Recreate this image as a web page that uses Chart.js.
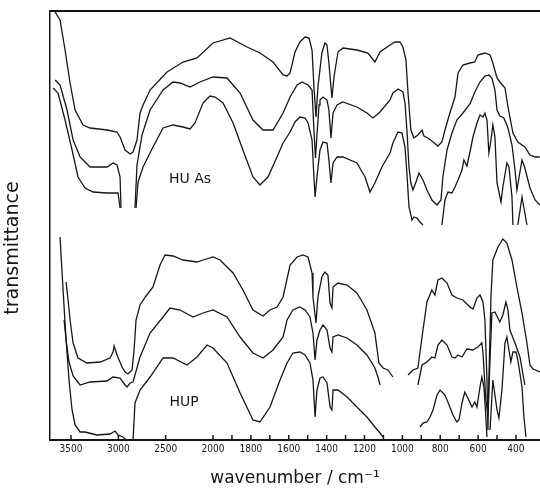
<!DOCTYPE html>
<html>
<head>
<meta charset="utf-8">
<script src="https://cdn.jsdelivr.net/npm/chart.js@4.4.1/dist/chart.umd.min.js"></script>
<style>
  html, body { margin: 0; padding: 0; background: #fff; }
  canvas { display: block; }
</style>
</head>
<body>
<canvas id="ir" width="540" height="489"></canvas>
<script>
// IR spectra: HUAs (upper three traces) and HUP (lower three traces).
// x = wavenumber / cm-1, y = transmittance in arbitrary units (the original has no y scale).
// [w, null] = pen lifted / trace runs off scale.

const TICK_WN = [3500, 3000, 2500, 2000, 1900, 1800, 1700, 1600, 1500, 1400, 1300, 1200, 1100, 1000, 900, 800, 700, 600, 500, 400];
const LABELLED_WN = [3500, 3000, 2500, 2000, 1800, 1600, 1400, 1200, 1000, 800, 600, 400];
const WN_LEFT = 3722, WN_RIGHT = 273;

const GROUP_NAMES = ["HU As", "HUP"];
const GROUP_NAME_WN = [2243, 2306];
const GROUP_NAME_T = [261, 38];

const huasTop = [[3668,428],[3616,420],[3563,390],[3510,357],[3457,330],[3373,315],[3299,312],[3119,310],[3014,308],[2982,303],[2929,290],[2876,286],[2845,288],[2803,300],[2771,327],[2739,335],[2665,350],[2486,368],[2317,378],[2169,382],[2000,397],[1910,402],[1820,393],[1752,387],[1683,378],[1630,365],[1609,364],[1593,367],[1567,388],[1541,398],[1514,403],[1493,402],[1477,390],[1467,353],[1456,323],[1446,353],[1425,387],[1409,397],[1398,395],[1388,377],[1372,342],[1361,363],[1340,388],[1314,392],[1240,390],[1182,387],[1145,378],[1118,388],[1065,395],[1039,398],[1013,398],[997,393],[981,380],[970,347],[955,310],[939,302],[918,305],[896,310],[886,304],[865,302],[838,298],[812,294],[791,298],[775,310],[749,327],[722,343],[706,367],[680,375],[643,377],[617,378],[601,385],[564,387],[537,385],[522,377],[500,362],[485,358],[458,352],[442,333],[416,307],[390,298],[353,293],[326,285],[299,283],[274,283]];

const huasMid = [[3668,360],[3616,355],[3542,330],[3478,300],[3404,283],[3299,273],[3119,273],[3056,277],[3014,275],[2982,263],[2972,232],[2900,null],[2824,232],[2803,275],[2750,305],[2665,330],[2528,350],[2422,358],[2348,357],[2243,353],[2137,358],[2000,363],[1926,362],[1857,347],[1789,320],[1736,310],[1683,310],[1630,327],[1593,343],[1556,355],[1530,358],[1498,355],[1477,350],[1467,310],[1459,282],[1451,305],[1440,335],[1435,340],[1419,343],[1398,340],[1388,330],[1377,302],[1366,327],[1345,335],[1314,338],[1240,333],[1187,327],[1155,322],[1118,328],[1065,340],[1050,347],[1023,351],[997,348],[986,337],[976,310],[965,273],[955,257],[944,250],[928,258],[912,267],[891,260],[870,250],[844,240],[817,235],[796,240],[786,263],[764,290],[738,307],[712,320],[680,327],[643,336],[617,348],[590,358],[564,364],[543,365],[527,362],[511,350],[500,330],[485,324],[464,322],[442,312],[421,295],[405,270],[395,250],[379,268],[368,280],[353,272],[326,252],[299,240],[274,235]];

const huasLow = [[3690,352],[3637,347],[3563,320],[3489,290],[3426,263],[3352,252],[3267,248],[3119,247],[3003,247],[2982,232],[2900,null],[2813,232],[2792,258],[2739,273],[2634,293],[2528,312],[2422,315],[2317,313],[2243,311],[2190,317],[2106,337],[2032,344],[1989,343],[1947,337],[1894,317],[1842,290],[1789,263],[1752,255],[1710,263],[1662,283],[1630,297],[1593,308],[1567,318],[1541,323],[1514,322],[1498,317],[1477,300],[1467,263],[1461,243],[1451,263],[1435,290],[1419,298],[1398,297],[1388,280],[1377,257],[1366,277],[1345,283],[1314,283],[1240,277],[1197,263],[1171,248],[1145,257],[1108,273],[1065,287],[1050,297],[1023,308],[1002,307],[986,293],[976,267],[965,233],[949,220],[939,223],[923,222],[907,218],[891,215],[850,null],[791,215],[775,240],[759,248],[738,247],[722,253],[706,260],[685,270],[675,280],[659,274],[643,288],[627,303],[606,317],[590,325],[574,323],[564,327],[553,320],[543,287],[532,300],[522,315],[511,303],[500,257],[479,238],[469,253],[448,277],[437,273],[421,243],[416,215],[400,null],[390,215],[368,243],[342,215]];

const hupTop = [[3552,158],[3531,140],[3510,120],[3478,97],[3426,82],[3331,77],[3193,78],[3088,82],[3056,88],[3045,94],[3014,85],[2961,73],[2929,68],[2898,66],[2855,70],[2834,90],[2813,120],[2771,135],[2708,144],[2634,153],[2560,175],[2507,185],[2422,184],[2317,180],[2169,178],[2106,180],[2000,183],[1963,180],[1894,167],[1842,150],[1789,130],[1736,124],[1699,130],[1662,133],[1630,143],[1593,175],[1556,183],[1525,185],[1498,183],[1477,167],[1472,143],[1456,117],[1446,143],[1425,163],[1409,168],[1393,165],[1382,137],[1372,132],[1366,153],[1340,157],[1292,155],[1240,147],[1187,130],[1145,107],[1124,77],[1102,72],[1076,70],[1050,63],[1010,null],[970,65],[944,70],[918,72],[891,110],[870,138],[844,150],[828,145],[812,160],[791,162],[764,157],[738,145],[712,142],[680,140],[643,133],[627,131],[606,142],[590,145],[574,138],[564,120],[553,60],[548,10],[543,60],[532,143],[522,180],[495,193],[469,201],[448,197],[421,180],[395,153],[368,127],[342,97],[326,75],[310,71],[274,68]];

const hupMid = [[3573,120],[3552,100],[3521,78],[3478,64],[3404,55],[3299,58],[3119,59],[3056,63],[2982,62],[2929,55],[2908,53],[2876,57],[2845,58],[2771,83],[2665,107],[2528,123],[2454,132],[2348,130],[2211,123],[2106,127],[2000,130],[1926,123],[1857,103],[1789,87],[1736,82],[1683,90],[1630,103],[1609,120],[1578,130],[1541,133],[1514,130],[1488,123],[1472,107],[1461,80],[1451,100],[1435,110],[1419,115],[1398,110],[1382,92],[1372,88],[1366,103],[1340,105],[1292,102],[1240,95],[1187,85],[1145,72],[1129,63],[1118,55],[1000,null],[918,55],[896,75],[870,78],[844,83],[828,82],[812,95],[791,100],[764,95],[738,83],[722,82],[706,85],[685,83],[659,91],[627,90],[601,93],[580,97],[574,87],[559,40],[548,25],[537,80],[527,127],[511,128],[485,118],[469,125],[453,138],[442,130],[432,110],[405,97],[379,83],[353,55]];

const hupLow = [[3616,203],[3584,150],[3552,100],[3521,60],[3489,30],[3457,15],[3404,8],[3352,8],[3225,5],[3088,6],[3035,9],[3003,5],[2950,3],[2919,0],[2880,null],[2845,0],[2824,37],[2771,50],[2665,63],[2528,82],[2422,82],[2275,75],[2169,83],[2063,95],[2000,92],[1926,77],[1857,47],[1789,20],[1752,18],[1699,33],[1646,60],[1609,77],[1578,87],[1541,88],[1514,85],[1488,77],[1472,60],[1461,23],[1451,50],[1435,62],[1419,63],[1398,57],[1382,33],[1372,30],[1366,50],[1340,50],[1292,43],[1240,33],[1187,23],[1145,13],[1118,7],[1102,3],[1000,null],[907,13],[891,17],[870,18],[854,23],[838,30],[817,45],[801,50],[775,45],[749,33],[733,25],[712,18],[701,20],[685,37],[670,48],[654,42],[632,33],[617,38],[606,33],[590,53],[580,63],[569,53],[559,23],[553,3],[545,null],[537,10],[522,60],[500,30],[490,22],[474,50],[458,97],[448,103],[437,90],[427,78],[416,88],[400,88],[390,80],[368,53],[358,23],[347,3]];

// the spectrometer chart changes scale at 2000 cm-1: above it 100 cm-1 takes half the length
const pos = w => (w <= 2000 ? w : 2000 + (w - 2000) / 2);
const unpos = p => (p <= 2000 ? p : 2000 + (p - 2000) * 2);

const INK = "#161616";

function trace(arr) {
  return {
    data: arr.map(([w, t]) => ({ x: pos(w), y: t })),
    borderColor: INK,
    borderWidth: 1.3,
    pointRadius: 0,
    tension: 0,
    fill: false,
    spanGaps: false,
  };
}

const extras = {
  id: "extras",
  afterDatasetsDraw(chart) {
    const { ctx } = chart;
    const x = chart.scales.x, y = chart.scales.y;
    ctx.save();
    // tick marks point up into the plot
    ctx.strokeStyle = INK;
    ctx.lineWidth = 1.5;
    TICK_WN.forEach(w => {
      const px = x.getPixelForValue(pos(w));
      ctx.beginPath();
      ctx.moveTo(px, y.bottom);
      ctx.lineTo(px, y.bottom - 5);
      ctx.stroke();
    });
    ctx.fillStyle = INK;
    ctx.font = '14px "DejaVu Sans"';
    ctx.textAlign = "center";
    ctx.textBaseline = "middle";
    GROUP_NAMES.forEach((name, i) => {
      ctx.fillText(name, x.getPixelForValue(pos(GROUP_NAME_WN[i])), y.getPixelForValue(GROUP_NAME_T[i]));
    });
    // y-axis title sits a little below the middle of the frame in the original
    ctx.translate(13, y.getPixelForValue(192));
    ctx.rotate(-Math.PI / 2);
    ctx.font = '19px "DejaVu Sans"';
    ctx.fillText("transmittance", 0, 0);
    ctx.restore();
  },
};

new Chart(document.getElementById("ir"), {
  type: "line",
  data: { datasets: [huasTop, huasMid, huasLow, hupTop, hupMid, hupLow].map(trace) },
  options: {
    responsive: false,
    animation: false,
    devicePixelRatio: 1,
    layout: { padding: { top: 11, right: 0, bottom: 0, left: 0 } },
    plugins: { legend: { display: false }, tooltip: { enabled: false } },
    scales: {
      x: {
        type: "linear",
        reverse: true,
        min: pos(WN_RIGHT),
        max: pos(WN_LEFT),
        afterFit(s) { s.height = 49; },
        afterBuildTicks(s) { s.ticks = TICK_WN.map(w => ({ value: pos(w) })); },
        ticks: {
          autoSkip: false,
          maxRotation: 0,
          padding: 3,
          color: INK,
          font: { family: "DejaVu Sans Condensed", size: 10 },
          callback: v => {
            const w = Math.round(unpos(v));
            return LABELLED_WN.includes(w) ? String(w) : "";
          },
        },
        grid: { display: false, drawTicks: false },
        border: { display: true, color: INK, width: 2 },
        title: {
          display: true,
          text: "wavenumber / cm⁻¹",
          color: INK,
          font: { family: "DejaVu Sans", size: 17 },
          padding: { top: 6, bottom: 0 },
        },
      },
      xTop: {
        type: "linear",
        position: "top",
        min: 0,
        max: 1,
        afterFit(s) { s.height = 0; },
        ticks: { display: false },
        grid: { display: false, drawTicks: false },
        border: { display: true, color: INK, width: 2 },
      },
      y: {
        min: 0,
        max: 429,
        afterFit(s) { s.width = 50; },
        ticks: { display: false },
        grid: { display: false, drawTicks: false },
        border: { display: true, color: INK, width: 1.5 },
      },
    },
  },
  plugins: [extras],
});
</script>
</body>
</html>
